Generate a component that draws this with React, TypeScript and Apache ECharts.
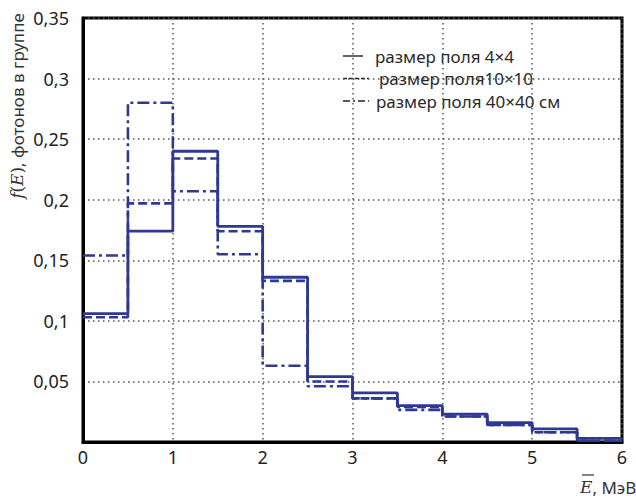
import React, { useEffect, useRef } from "react";
import * as echarts from "echarts";

const binEdges = [0, 0.5, 1, 1.5, 2, 2.5, 3, 3.5, 4, 4.5, 5, 5.5, 6];
const field4x4 = [0.106, 0.174, 0.240, 0.178, 0.136, 0.054, 0.0405, 0.030, 0.023, 0.016, 0.0108, 0.003];
const field10x10 = [0.103, 0.197, 0.234, 0.174, 0.133, 0.050, 0.036, 0.029, 0.021, 0.014, 0.008, 0.001];
const field40x40 = [0.154, 0.280, 0.207, 0.155, 0.063, 0.046, 0.036, 0.0265, 0.021, 0.014, 0.008, 0.001];
const seriesNames = ["размер поля 4×4", "размер поля10×10", "размер поля 40×40 см"];
const xTicks = [0, 1, 2, 3, 4, 5, 6];
const yTicks = [0.05, 0.1, 0.15, 0.2, 0.25, 0.3, 0.35];

const stepData = (vals: number[]) => {
  const pts: [number, number][] = vals.map((v, i) => [binEdges[i], v]);
  pts.push([binEdges[binEdges.length - 1], vals[vals.length - 1]]);
  return pts;
};

const BLUE = "#2f3892";

export default function App() {
  const ref = useRef<HTMLDivElement>(null);
  useEffect(() => {
    if (!ref.current) return;
    const chart = echarts.init(ref.current, undefined, { renderer: "svg" });
    const lineTypes: any[] = ["solid", [9, 4], [12, 4, 3, 4]];
    const datasets = [field4x4, field10x10, field40x40];
    const legendY = [56, 78.5, 101];
    const legendTextX = [375, 379, 376];
    const graphics: any[] = [];
    datasets.forEach((_, i) => {
      graphics.push({
        type: "line",
        shape: { x1: 343, y1: legendY[i], x2: i === 0 ? 363 : 369, y2: legendY[i] },
        style: { stroke: "#222", lineWidth: 1.4, lineDash: i === 0 ? null : i === 1 ? [4, 2] : [7, 3, 2, 3] },
      });
      graphics.push({
        type: "text",
        x: legendTextX[i],
        y: legendY[i],
        style: {
          text: seriesNames[i],
          fontFamily: "Noto Sans",
          fontSize: 17,
          lineHeight: 18,
          fill: "#2a2a2a",
          textVerticalAlign: "middle",
        },
      });
    });
    graphics.push({
      type: "text",
      x: 17,
      y: 106,
      rotation: Math.PI / 2,
      style: {
        text: "{i|f}{n|(}{i|E}{n|)}{s|, фотонов в группе}",
        textAlign: "center",
        textVerticalAlign: "middle",
        fill: "#333",
        rich: {
          i: { fontFamily: "DejaVu Serif", fontStyle: "italic", fontSize: 17, fill: "#333" },
          n: { fontFamily: "DejaVu Serif", fontSize: 17, fill: "#333" },
          s: { fontFamily: "Noto Sans", fontSize: 17, fill: "#333" },
        },
      },
    });
    graphics.push({
      type: "text",
      x: 580,
      y: 487,
      style: {
        text: "{i|E}{s|, МэВ}",
        textVerticalAlign: "middle",
        rich: {
          i: { fontFamily: "DejaVu Serif", fontStyle: "italic", fontSize: 17, fill: "#333" },
          s: { fontFamily: "Noto Sans", fontSize: 17, fill: "#333" },
        },
      },
    });
    graphics.push({
      type: "line",
      shape: { x1: 582, y1: 475, x2: 594, y2: 475 },
      style: { stroke: "#333", lineWidth: 1.2 },
    });

    chart.setOption({
      animation: false,
      backgroundColor: "#ffffff",
      grid: {
        left: 83,
        right: 14,
        top: 18,
        bottom: 57,
        show: true,
        borderColor: "#000",
        borderWidth: 3,
      },
      xAxis: {
        type: "value",
        min: 0,
        max: 6,
        interval: 1,
        axisLine: { show: true, lineStyle: { color: "#000", width: 3 } },
        axisTick: { show: false },
        axisLabel: {
          color: "#222",
          fontFamily: "Noto Sans",
          fontSize: 18,
          margin: 6,
          formatter: (v: number) => (xTicks.includes(v) ? String(v) : ""),
        },
        splitLine: { show: true, lineStyle: { color: "#555", type: [1.5, 3.5], width: 1.5 } },
      },
      yAxis: {
        type: "value",
        min: 0,
        max: 0.35,
        interval: 0.05,
        axisLine: { show: true, lineStyle: { color: "#000", width: 3 } },
        axisTick: { show: false },
        axisLabel: {
          color: "#222",
          fontFamily: "Noto Sans",
          fontSize: 18,
          margin: 14,
          formatter: (v: number) => {
            const r = Math.round(v * 100) / 100;
            return yTicks.some((t) => Math.abs(t - r) < 1e-9) ? String(r).replace(".", ",") : "";
          },
        },
        splitLine: { show: true, lineStyle: { color: "#555", type: [1.5, 3.5], width: 1.5 } },
      },
      series: datasets.map((d, i) => ({
        name: seriesNames[i],
        type: "line",
        step: "end",
        symbol: "none",
        data: stepData(d),
        z: 10 - i,
        lineStyle: { color: BLUE, width: i === 0 ? 2.8 : 2.6, type: lineTypes[i] },
      })),
      graphic: graphics,
    });
    return () => chart.dispose();
  }, []);
  return (
    <div
      ref={ref}
      style={{ position: "fixed", left: 0, top: 0, width: 636, height: 499, background: "#fff" }}
    />
  );
}
